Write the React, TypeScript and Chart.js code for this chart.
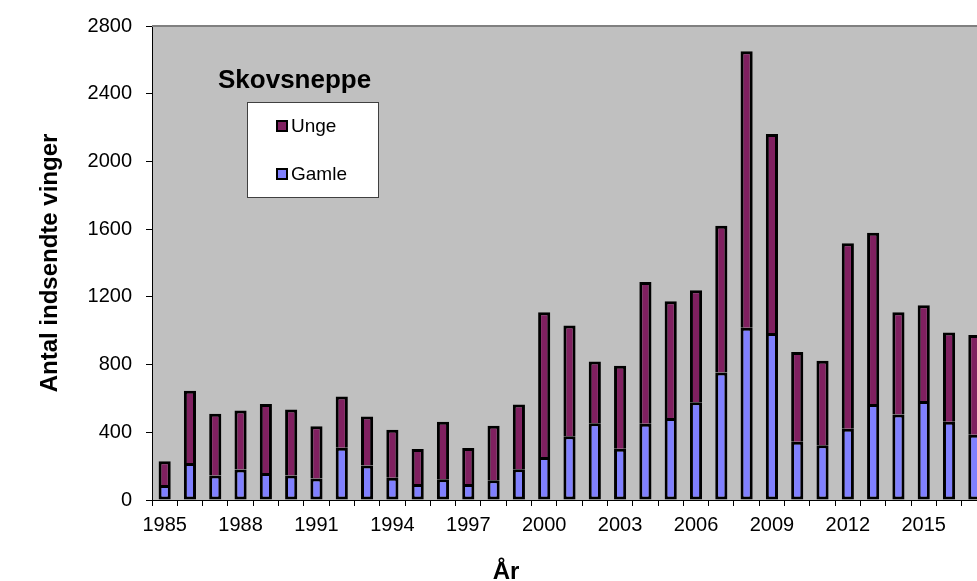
import React, { useEffect, useRef } from "react";
import { Chart, registerables } from "chart.js";

Chart.register(...registerables);

const YEARS: string[] = [
  "1985", "1986", "1987", "1988", "1989", "1990", "1991", "1992", "1993", "1994",
  "1995", "1996", "1997", "1998", "1999", "2000", "2001", "2002", "2003", "2004",
  "2005", "2006", "2007", "2008", "2009", "2010", "2011", "2012", "2013", "2014",
  "2015", "2016", "2017",
];

const GAMLE: number[] = [
  88, 219, 145, 180, 160, 145, 127, 309, 204, 131,
  94, 123, 94, 117, 182, 254, 376, 454, 303, 450,
  485, 577, 753, 1018, 986, 344, 323, 421, 567, 505,
  585, 462, 385,
];

const UNGE: number[] = [
  141, 427, 364, 348, 407, 389, 309, 302, 289, 284,
  207, 339, 213, 321, 382, 855, 655, 364, 490, 838,
  689, 662, 867, 1633, 1176, 531, 499, 1095, 1012, 604,
  566, 528, 589,
];

const Y_MIN = 0;
const Y_MAX = 2800;
const Y_STEP = 400;

const CHART_TITLE = "Skovsneppe";
const Y_TITLE = "Antal indsendte vinger";
const X_TITLE = "År";
const SERIES_UNGE = "Unge";
const SERIES_GAMLE = "Gamle";

const COLOR_UNGE = "#802060";
const COLOR_GAMLE = "#8080FF";
const FONT = "'Liberation Sans', Arial, Helvetica, sans-serif";

const decorPlugin = {
  id: "decor",
  beforeDraw(chart: any) {
    const { ctx, chartArea: a } = chart;
    ctx.save();
    ctx.fillStyle = "#ffffff";
    ctx.fillRect(0, 0, chart.width, chart.height);
    ctx.fillStyle = "#C0C0C0";
    ctx.fillRect(a.left, a.top, a.right - a.left, a.bottom - a.top);
    ctx.restore();
  },
  afterDraw(chart: any) {
    const { ctx, chartArea: a } = chart;
    ctx.save();
    // plot frame (top / right)
    ctx.strokeStyle = "#808080";
    ctx.lineWidth = 2;
    ctx.beginPath();
    ctx.moveTo(a.left, a.top);
    ctx.lineTo(a.right, a.top);
    ctx.lineTo(a.right, a.bottom);
    ctx.stroke();

    // chart title
    ctx.fillStyle = "#000";
    ctx.font = `bold 26px ${FONT}`;
    ctx.textAlign = "left";
    ctx.textBaseline = "alphabetic";
    ctx.fillText(CHART_TITLE, 218, 88);

    // legend box
    ctx.fillStyle = "#ffffff";
    ctx.fillRect(247, 102, 131, 95);
    ctx.strokeStyle = "#404040";
    ctx.lineWidth = 1;
    ctx.strokeRect(247.5, 102.5, 131, 95);

    const items = [
      { label: SERIES_UNGE, color: COLOR_UNGE, y: 126 },
      { label: SERIES_GAMLE, color: COLOR_GAMLE, y: 174 },
    ];
    ctx.font = `19px ${FONT}`;
    ctx.textBaseline = "middle";
    for (const it of items) {
      ctx.fillStyle = it.color;
      ctx.fillRect(277, it.y - 5, 10, 10);
      ctx.strokeStyle = "#000";
      ctx.lineWidth = 2;
      ctx.strokeRect(277, it.y - 5, 10, 10);
      ctx.fillStyle = "#000";
      ctx.fillText(it.label, 291, it.y + 1);
    }

    // y title
    ctx.save();
    ctx.translate(50, (a.top + a.bottom) / 2);
    ctx.rotate(-Math.PI / 2);
    ctx.font = `bold 24px ${FONT}`;
    ctx.textAlign = "center";
    ctx.textBaseline = "middle";
    ctx.fillText(Y_TITLE, 0, 0);
    ctx.restore();

    // x title
    ctx.font = `bold 24px ${FONT}`;
    ctx.textAlign = "center";
    ctx.textBaseline = "alphabetic";
    ctx.fillText(X_TITLE, chart.width / 2, 579);
    ctx.restore();
  },
};

export default function App() {
  const canvasRef = useRef<HTMLCanvasElement | null>(null);

  useEffect(() => {
    if (!canvasRef.current) return;
    const chart = new Chart(canvasRef.current, {
      type: "bar",
      data: {
        labels: YEARS,
        datasets: [
          {
            label: SERIES_GAMLE,
            data: GAMLE,
            backgroundColor: COLOR_GAMLE,
            borderColor: "#000",
            borderWidth: 3,
            borderSkipped: false,
            categoryPercentage: 1,
            barPercentage: 0.48,
          },
          {
            label: SERIES_UNGE,
            data: UNGE,
            backgroundColor: COLOR_UNGE,
            borderColor: "#000",
            borderWidth: 3,
            borderSkipped: "start",
            categoryPercentage: 1,
            barPercentage: 0.48,
          },
        ],
      },
      options: {
        animation: false,
        responsive: true,
        maintainAspectRatio: false,
        layout: { padding: { top: 23, right: 25, left: 0, bottom: 0 } },
        plugins: {
          legend: { display: false },
          tooltip: { enabled: false },
          title: { display: false },
        },
        scales: {
          x: {
            stacked: true,
            offset: true,
            grid: {
              display: true,
              drawOnChartArea: false,
              drawTicks: true,
              tickLength: 6,
              color: "#000",
              offset: true,
            },
            border: { display: true, color: "#000", width: 1 },
            ticks: {
              autoSkip: false,
              maxRotation: 0,
              minRotation: 0,
              padding: 7,
              color: "#000",
              font: { size: 20, family: FONT },
              callback: (_v: any, i: number) => (i % 3 === 0 ? YEARS[i] : ""),
            },
            afterFit: (s: any) => {
              s.height = 81;
            },
          },
          y: {
            stacked: true,
            min: Y_MIN,
            max: Y_MAX,
            ticks: {
              stepSize: Y_STEP,
              padding: 14,
              color: "#000",
              font: { size: 20, family: FONT },
              callback: (v: any) => String(v),
            },
            grid: {
              display: true,
              drawOnChartArea: false,
              drawTicks: true,
              tickLength: 6,
              color: "#000",
            },
            border: { display: true, color: "#000", width: 1 },
            afterFit: (s: any) => {
              s.width = 152;
            },
          },
        },
      },
      plugins: [decorPlugin],
    });
    return () => chart.destroy();
  }, []);

  return (
    <div
      style={{
        position: "fixed",
        left: 0,
        top: 0,
        width: 977,
        height: 581,
        overflow: "hidden",
        background: "#fff",
      }}
    >
      <div style={{ position: "relative", width: 1012, height: 581 }}>
        <canvas ref={canvasRef} />
      </div>
    </div>
  );
}
